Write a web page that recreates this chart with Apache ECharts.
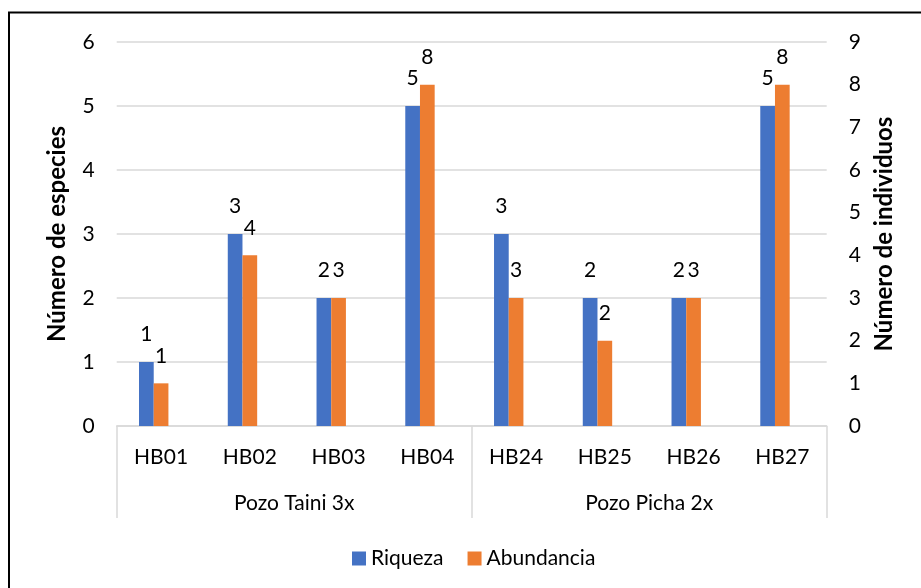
<!DOCTYPE html>
<html>
<head>
<meta charset="utf-8">
<script src="https://cdn.jsdelivr.net/npm/echarts@6/dist/echarts.min.js"></script>
<style>
  html, body { margin: 0; padding: 0; background: #fff; }
  #main { width: 921px; height: 588px; }
</style>
</head>
<body>
<div id="main"></div>
<script>
// datos del grafico
var muestras = ['HB01', 'HB02', 'HB03', 'HB04', 'HB24', 'HB25', 'HB26', 'HB27'];
var pozos = ['Pozo Taini 3x', 'Pozo Picha 2x'];
var riqueza = [1, 3, 2, 5, 3, 2, 2, 5];
var abundancia = [1, 4, 3, 8, 3, 2, 3, 8];
var ticksEspecies = [0, 1, 2, 3, 4, 5, 6];
var ticksIndividuos = [0, 1, 2, 3, 4, 5, 6, 7, 8, 9];

var fuente = 'Lato';
var gris = '#d9d9d9';
var tam = 21;

var dom = document.getElementById('main');
var myChart = echarts.init(dom);

var etiqueta = {
    show: true,
    position: 'top',
    distance: 17,
    fontFamily: fuente,
    fontSize: tam,
    color: '#000'
};

option = {
    animation: false,
    textStyle: { fontFamily: fuente },
    graphic: [{
        type: 'rect',
        shape: { x: 9, y: 12.5, width: 1000, height: 1000 },
        style: { fill: 'none', stroke: '#000', lineWidth: 2 },
        silent: true
    }],
    grid: {
        left: 116.7, right: 94.3, top: 42, bottom: 162,
        containLabel: false,
        outerBoundsMode: 'none'
    },
    legend: {
        data: ['Riqueza', 'Abundancia'],
        left: 347,
        top: 543,
        itemWidth: 14,
        itemHeight: 14,
        itemGap: 24,
        icon: 'rect',
        textStyle: { fontFamily: fuente, fontSize: tam, color: '#000' }
    },
    xAxis: [{
        type: 'category',
        data: muestras,
        position: 'bottom',
        axisLine: { lineStyle: { color: gris, width: 1.5 } },
        axisTick: { show: false },
        axisLabel: { fontFamily: fuente, fontSize: tam, color: '#000', margin: 21 }
    }, {
        type: 'category',
        data: pozos,
        position: 'bottom',
        axisLine: { show: false },
        axisTick: { show: true, length: 92, lineStyle: { color: gris, width: 1.5 } },
        axisLabel: { fontFamily: fuente, fontSize: tam, color: '#000', margin: 67 }
    }],
    yAxis: [{
        type: 'value',
        min: ticksEspecies[0],
        max: ticksEspecies[ticksEspecies.length - 1],
        interval: 1,
        name: 'Número de especies',
        nameLocation: 'middle',
        nameRotate: 90,
        nameGap: 47,
        nameTextStyle: { fontFamily: fuente, fontSize: 24, fontWeight: 'bold', color: '#000' },
        axisLine: { show: false },
        axisTick: { show: false },
        axisLabel: { fontFamily: fuente, fontSize: tam, color: '#000', margin: 22 },
        splitLine: { lineStyle: { color: gris, width: 1.5 } }
    }, {
        type: 'value',
        min: ticksIndividuos[0],
        max: ticksIndividuos[ticksIndividuos.length - 1],
        interval: 1,
        position: 'right',
        name: 'Número de individuos',
        nameLocation: 'middle',
        nameRotate: 90,
        nameGap: 40,
        nameTextStyle: { fontFamily: fuente, fontSize: 24, fontWeight: 'bold', color: '#000' },
        axisLine: { show: false },
        axisTick: { show: false },
        axisLabel: { fontFamily: fuente, fontSize: tam, color: '#000', margin: 22 },
        splitLine: { show: false }
    }],
    series: [{
        name: 'Riqueza',
        type: 'bar',
        xAxisIndex: 0,
        yAxisIndex: 0,
        data: riqueza,
        barWidth: 14.7,
        barGap: '0%',
        itemStyle: { color: '#4472c4' },
        label: etiqueta
    }, {
        name: 'Abundancia',
        type: 'bar',
        xAxisIndex: 0,
        yAxisIndex: 1,
        data: abundancia,
        barWidth: 14.7,
        barGap: '0%',
        itemStyle: { color: '#ed7d31' },
        label: etiqueta
    }, {
        // serie vacia, solo ocupa el hueco a la derecha como en el original
        name: 'vacio',
        type: 'bar',
        xAxisIndex: 0,
        yAxisIndex: 1,
        data: [],
        barWidth: 14.7,
        barGap: '0%'
    }]
};

if (option && typeof option === 'object') {
    myChart.setOption(option, true);
}
</script>
</body>
</html>
